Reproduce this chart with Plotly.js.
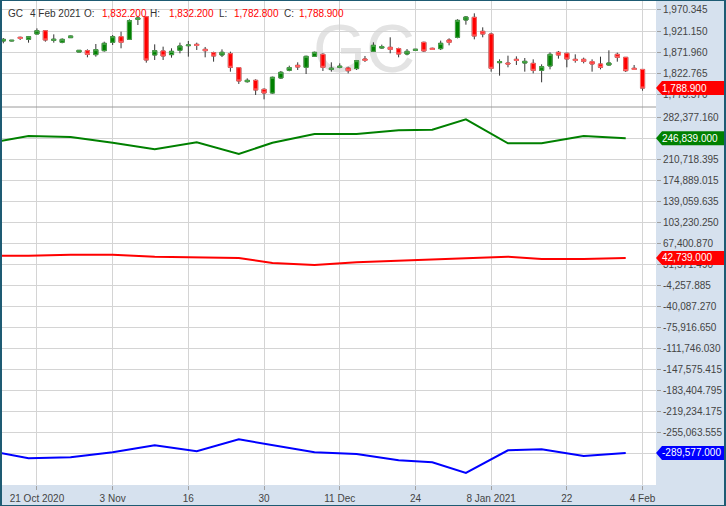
<!DOCTYPE html>
<html><head><meta charset="utf-8">
<script src="https://cdn.plot.ly/plotly-3.0.1.min.js"></script>
<style>
html,body{margin:0;padding:0;background:#fff;}
#wrap{position:relative;width:726px;height:506px;background:#d6e1ee;overflow:hidden;}
#plotbg{position:absolute;left:2px;top:1px;width:654px;height:484px;background:#fff;}
#wm{position:absolute;left:313px;top:23px;white-space:nowrap;font-family:'Liberation Sans',Arial,sans-serif;font-size:68px;line-height:50px;color:#e3e3e3;}
#chart{position:absolute;left:0;top:0;width:726px;height:506px;}
#frame{position:absolute;left:0;top:0;width:726px;height:506px;box-sizing:border-box;border:1px solid #1e5b73;border-left-width:2px;border-right-width:2px;pointer-events:none;}
</style></head>
<body>
<div id="wrap">
  <div id="plotbg"></div>
  <div id="wm">GC</div>
  <div id="chart"></div>
  <div id="frame"></div>
</div>
<script>
// ---------- DATA ----------
const symbol = 'GC';
// all trading days on the category axis (two leading days only carry the weekly lines)
const categories = ['2020-10-13','2020-10-14','2020-10-15','2020-10-16','2020-10-19','2020-10-20','2020-10-21','2020-10-22','2020-10-23','2020-10-26','2020-10-27','2020-10-28','2020-10-29','2020-10-30',
'2020-11-02','2020-11-03','2020-11-04','2020-11-05','2020-11-06','2020-11-09','2020-11-10','2020-11-11','2020-11-12','2020-11-13','2020-11-16','2020-11-17','2020-11-18','2020-11-19','2020-11-20','2020-11-23','2020-11-24','2020-11-25','2020-11-27','2020-11-30',
'2020-12-01','2020-12-02','2020-12-03','2020-12-04','2020-12-07','2020-12-08','2020-12-09','2020-12-10','2020-12-11','2020-12-14','2020-12-15','2020-12-16','2020-12-17','2020-12-18','2020-12-21','2020-12-22','2020-12-23','2020-12-24','2020-12-28','2020-12-29','2020-12-30','2020-12-31',
'2021-01-04','2021-01-05','2021-01-06','2021-01-07','2021-01-08','2021-01-11','2021-01-12','2021-01-13','2021-01-14','2021-01-15','2021-01-19','2021-01-20','2021-01-21','2021-01-22','2021-01-25','2021-01-26','2021-01-27','2021-01-28','2021-01-29',
'2021-02-01','2021-02-02','2021-02-03','2021-02-04'];
const candleDates = categories.slice(2);
const openP  = [1898.2,1898.2,1906.7,1902.0,1914.4,1922.1,1899.7,1895.1,1905.9,1872.6,1875.7,1866.5,1875.7,1895.1,1908.2,1902.0,1948.5,1954.6,1865.7,1875.0,
1866.5,1876.5,1887.3,1890.4,1878.8,1871.1,1865.7,1868.8,1836.3,1803.8,1806.9,1786.0,1777.5,1812.3,1830.1,1841.7,1837.1,1862.6,1867.2,
1832.4,1837.1,1835.5,1834.0,1856.4,1874.2,1881.9,1883.5,1880.4,1868.0,1876.5,1895.1,1881.2,1880.4,1900.5,1906.7,1946.9,1953.1,1920.6,1914.4,
1847.9,1847.1,1855.6,1847.1,1846.3,1830.1,1840.2,1871.9,1869.6,1855.6,1855.6,1850.2,1844.8,1842.5,1867.2,1860.3,1834.8,1832.2];
const highP  = [1905.1,1900.5,1908.2,1909.8,1927.5,1923.7,1913.6,1904.4,1910.5,1877.3,1878.8,1891.2,1896.6,1912.1,1919.8,1948.5,1954.6,1956.2,1890.4,1885.0,
1881.2,1894.3,1898.2,1894.3,1884.3,1873.4,1878.8,1873.4,1837.1,1811.5,1809.2,1788.3,1815.4,1828.6,1840.9,1848.7,1864.1,1873.4,1869.6,
1848.7,1846.3,1838.6,1854.1,1863.4,1895.1,1889.7,1906.7,1882.7,1879.6,1879.6,1896.6,1882.7,1899.0,1904.4,1948.5,1956.2,1962.4,1929.9,1917.5,
1855.6,1864.1,1862.6,1858.7,1855.6,1844.0,1871.9,1875.0,1871.1,1867.2,1859.5,1855.6,1861.8,1876.5,1871.1,1861.0,1842.5,1832.2];
const lowP   = [1892.8,1897.4,1900.5,1894.3,1913.6,1896.6,1894.3,1892.8,1905.1,1871.9,1860.3,1861.8,1873.4,1888.9,1881.2,1900.5,1935.3,1847.9,1854.1,1854.1,
1859.5,1869.6,1861.8,1877.3,1860.3,1850.2,1861.0,1827.0,1798.4,1801.5,1772.9,1762.8,1775.9,1810.0,1827.8,1830.9,1821.6,1861.8,1828.6,
1827.0,1834.8,1823.1,1830.9,1849.4,1872.6,1880.4,1869.6,1860.3,1864.9,1875.7,1872.6,1878.0,1877.3,1888.1,1904.4,1936.1,1902.0,1906.7,1827.0,
1817.7,1837.1,1842.5,1827.0,1823.1,1802.3,1832.4,1857.2,1837.1,1847.9,1846.3,1827.0,1832.4,1840.9,1850.2,1826.2,1830.9,1782.8];
const closeP = [1902.0,1899.7,1904.4,1908.2,1922.1,1900.5,1902.0,1902.0,1909.8,1876.5,1867.2,1878.0,1892.8,1908.2,1895.1,1945.4,1951.5,1854.1,1875.7,1863.4,
1874.2,1886.6,1888.9,1888.1,1875.7,1863.4,1871.9,1837.1,1805.4,1806.9,1784.5,1777.5,1813.9,1825.5,1836.3,1837.8,1862.6,1871.9,1837.1,
1834.8,1839.4,1829.3,1852.5,1853.3,1888.1,1885.0,1878.8,1868.0,1874.2,1878.8,1875.0,1878.8,1892.8,1895.1,1946.1,1953.9,1909.8,1914.4,1834.8,
1850.2,1844.8,1853.3,1851.0,1830.1,1838.6,1867.2,1865.7,1856.4,1853.3,1851.0,1844.8,1837.1,1847.1,1860.3,1829.3,1832.4,1788.9];

// weekly positioning lines
const weekDates = ['2020-10-13','2020-10-20','2020-10-27','2020-11-03','2020-11-10','2020-11-17','2020-11-24','2020-12-01','2020-12-08','2020-12-15','2020-12-22','2020-12-29','2021-01-05','2021-01-12','2021-01-19','2021-01-26','2021-02-02'];
const greenNet = [237700,250500,248800,239100,227800,239800,219800,239100,253900,253900,260200,261200,279000,238100,238100,250500,246839];
const redNet   = [46500,46500,48200,48200,44800,44300,42600,34100,30700,35300,37500,39200,42100,44800,40900,40900,42739];
const blueNet  = [-285000,-298700,-297000,-288500,-276500,-286800,-266300,-276000,-288500,-291400,-302100,-305500,-323700,-285100,-283400,-294800,-289577];

// axis ticks
const xTickDates  = ['2020-10-21','2020-11-03','2020-11-16','2020-11-30','2020-12-11','2020-12-24','2021-01-08','2021-01-22','2021-02-04'];
const xTickLabels = ['21 Oct 2020','3 Nov','16','30','11 Dec','24','8 Jan 2021','22','4 Feb'];
const priceTickVals   = [1970.345,1921.150,1871.960,1822.765,1773.570];
const priceTickLabels = ['1,970.345','1,921.150','1,871.960','1,822.765','1,773.570'];
const netTickVals   = [282377.160,246547.780,210718.395,174889.015,139059.635,103230.250,67400.870,31571.490,-4257.885,
-40087.270,-75916.650,-111746.030,-147575.415,-183404.795,-219234.175,-255063.555,-290892.935];
// labels at 246,547.780 and -290,892.935 sit fully under the value tags in the reference
const netTickLabels = ['282,377.160','','210,718.395','174,889.015','139,059.635','103,230.250','67,400.870','31,571.490','-4,257.885',
'-40,087.270','-75,916.650','-111,746.030','-147,575.415','-183,404.795','-219,234.175','-255,063.555',''];

// ---------- helpers ----------
const fmt = v => v.toLocaleString('en-US',{minimumFractionDigits:3,maximumFractionDigits:3});
const MON = ['Jan','Feb','Mar','Apr','May','Jun','Jul','Aug','Sep','Oct','Nov','Dec'];
const fmtDate = s => { const p = s.split('-'); return (+p[2]) + ' ' + MON[+p[1]-1] + ' ' + p[0]; };

const GREEN='#008000', RED='#ff0000', BLUE='#0000ff';
const n = closeP.length;
const bodyHigh = openP.map((o,i)=>Math.max(o,closeP[i]));
const bodyLow  = openP.map((o,i)=>Math.min(o,closeP[i]));

const traces = [
  { type:'candlestick', x:candleDates, open:openP, high:highP, low:lowP, close:closeP, xaxis:'x', yaxis:'y2',
    increasing:{line:{color:'#333333',width:1}, fillcolor:GREEN},
    decreasing:{line:{color:'#333333',width:1}, fillcolor:RED},
    whiskerwidth:0, hoverinfo:'skip', showlegend:false },
  { type:'candlestick', x:candleDates, open:openP, high:bodyHigh, low:bodyLow, close:closeP, xaxis:'x', yaxis:'y2',
    increasing:{line:{color:'#4ea64e',width:1}, fillcolor:GREEN},
    decreasing:{line:{color:'#ff6a6a',width:1}, fillcolor:RED},
    whiskerwidth:0, hoverinfo:'skip', showlegend:false },
  { type:'scatter', mode:'lines', x:weekDates, y:greenNet, xaxis:'x', yaxis:'y', line:{color:GREEN,width:2}, showlegend:false, hoverinfo:'skip' },
  { type:'scatter', mode:'lines', x:weekDates, y:redNet,   xaxis:'x', yaxis:'y', line:{color:RED,width:2}, showlegend:false, hoverinfo:'skip' },
  { type:'scatter', mode:'lines', x:weekDates, y:blueNet,  xaxis:'x', yaxis:'y', line:{color:BLUE,width:2}, showlegend:false, hoverinfo:'skip' }
];

const PL = 2, PW = 654, PT = 1, PH = 484;
const split = 378/484;
const px2paperX = px => (px - PL)/PW;
const px2paperY = py => (PT + PH - py)/PH;

const axisCommon = {
  side:'right', showgrid:true, gridcolor:'#d4d4d4', gridwidth:1, zeroline:false,
  ticks:'outside', ticklen:4, tickcolor:'#a0a0a0', tickfont:{size:10,color:'#444'},
  showline:false, fixedrange:true
};

const layout = {
  width:726, height:506,
  margin:{l:PL, r:726-PL-PW, t:PT, b:506-PT-PH, pad:0},
  paper_bgcolor:'rgba(0,0,0,0)', plot_bgcolor:'rgba(0,0,0,0)',
  font:{family:"'Liberation Sans', Arial, sans-serif", color:'#444'},
  showlegend:false, boxmode:'overlay', boxgap:0.3,
  xaxis:{ type:'category', categoryorder:'array', categoryarray:categories, range:[1.845, 79.6],
    tickvals:xTickDates, ticktext:xTickLabels, showgrid:true, gridcolor:'#d4d4d4', zeroline:false,
    ticks:'outside', ticklen:4, tickcolor:'#a0a0a0', tickfont:{size:10,color:'#444'},
    rangeslider:{visible:false}, anchor:'y', fixedrange:true },
  yaxis: Object.assign({}, axisCommon, { domain:[0, split], range:[-344177, 299927], anchor:'x',
    tickvals:netTickVals, ticktext:netTickLabels }),
  yaxis2: Object.assign({}, axisCommon, { domain:[split, 1], range:[1745.0, 1991.0], anchor:'x',
    tickvals:priceTickVals, ticktext:priceTickLabels }),
  shapes:[
    { type:'line', xref:'paper', yref:'paper', x0:0, x1:1, y0:split, y1:split, line:{color:'#9a9a9a', width:1}, layer:'above' }
  ],
  annotations:[]
};

// header
const last = n - 1;
const header = [
  {t:symbol, px:7, c:'#333'},
  {t:fmtDate(candleDates[last]), px:29, c:'#333'},
  {t:'O:', px:83, c:'#333'}, {t:fmt(openP[last]), px:101, c:RED},
  {t:'H:', px:149, c:'#333'}, {t:fmt(highP[last]), px:168, c:RED},
  {t:'L:', px:218, c:'#333'}, {t:fmt(lowP[last]), px:233, c:RED},
  {t:'C:', px:283, c:'#333'}, {t:fmt(closeP[last]), px:298, c:RED}
];
header.forEach(h => layout.annotations.push({
  xref:'paper', yref:'paper', x:px2paperX(h.px), y:px2paperY(14), xanchor:'left', yanchor:'middle',
  text:h.t, showarrow:false, font:{size:10, color:h.c}, borderpad:0
}));

// value tags on the right axis
function tag(value, yref, color){
  layout.shapes.push({ type:'path', xref:'paper', yref:yref, xsizemode:'pixel', ysizemode:'pixel',
    xanchor:1, yanchor:value, path:'M0,0 L6,7 L70,7 L70,-7 L6,-7 Z',
    fillcolor:color, line:{width:0}, layer:'above' });
  layout.annotations.push({ xref:'paper', yref:yref, x:1, y:value, xanchor:'left', yanchor:'middle', xshift:5,
    text:fmt(value), showarrow:false, font:{size:10, color:'#ffffff'}, borderpad:0 });
}
tag(closeP[last], 'y2', RED);
tag(greenNet[greenNet.length-1], 'y', GREEN);
tag(redNet[redNet.length-1], 'y', RED);
tag(blueNet[blueNet.length-1], 'y', BLUE);

Plotly.newPlot('chart', traces, layout, {staticPlot:true, displayModeBar:false});
</script>
</body></html>
